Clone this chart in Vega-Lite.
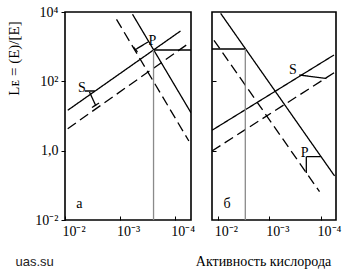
{
  "$schema": "https://vega.github.io/schema/vega-lite/v6.json",
  "padding": {"left": 5, "top": 4, "right": 0, "bottom": 0},
  "background": "white",
  "config": {
    "view": {"stroke": "black", "strokeWidth": 1.6},
    "axis": {"grid": false, "domain": false, "tickColor": "black", "labelColor": "black", "titleColor": "black", "labelFlush": false, "labelOverlap": false}
  },
  "datasets": {
    "segA": [
      {"x": 0.0091, "y": 14.6, "x2": 0.0000778, "y2": 2830, "kind": "solid"},
      {"x": 0.0091, "y": 4.31, "x2": 0.0000561, "y2": 1220, "kind": "dashed"},
      {"x": 0.00059, "y": 8590, "x2": 0.0000501, "y2": 12.45, "kind": "solid"},
      {"x": 0.00116, "y": 6150, "x2": 0.0000547, "y2": 1.9, "kind": "dashed"},
      {"x": 0.000243, "y": 802, "x2": 0.0000501, "y2": 802, "kind": "solid"},
      {"x": 0.000243, "y": 802, "x2": 0.000243, "y2": 0.01, "kind": "guide"},
      {"x": 0.00444, "y": 52.6, "x2": 0.0029, "y2": 52.6, "kind": "note"},
      {"x": 0.00363, "y": 49.3, "x2": 0.00282, "y2": 20.8, "kind": "note"},
      {"x": 0.00327, "y": 17.6, "x2": 0.00243, "y2": 23.6, "kind": "note"},
      {"x": 0.000307, "y": 1365, "x2": 0.00052, "y2": 828, "kind": "note"},
      {"x": 0.000566, "y": 977, "x2": 0.000479, "y2": 702, "kind": "note"}
    ],
    "txtA": [
      {"x": 0.00499, "y": 64.3, "label": "S"},
      {"x": 0.000254, "y": 1459, "label": "P"},
      {"x": 0.00555, "y": 0.029, "label": "а"}
    ],
    "segB": [
      {"x": 0.00885, "y": 9160, "x2": 0.0000546, "y2": 0.186, "kind": "solid"},
      {"x": 0.0119, "y": 1530, "x2": 0.000107, "y2": 0.0656, "kind": "dashed"},
      {"x": 0.013, "y": 3.87, "x2": 0.0000561, "y2": 575, "kind": "solid"},
      {"x": 0.013, "y": 0.979, "x2": 0.000053, "y2": 186, "kind": "dashed"},
      {"x": 0.013, "y": 857, "x2": 0.00294, "y2": 857, "kind": "solid"},
      {"x": 0.00294, "y": 857, "x2": 0.00294, "y2": 0.01, "kind": "guide"},
      {"x": 0.000264, "y": 152.4, "x2": 0.0000791, "y2": 120.8, "kind": "note"},
      {"x": 0.000193, "y": 0.67, "x2": 0.000101, "y2": 0.67, "kind": "note"},
      {"x": 0.000193, "y": 0.67, "x2": 0.000193, "y2": 0.227, "kind": "note"}
    ],
    "txtB": [
      {"x": 0.000353, "y": 212, "label": "S"},
      {"x": 0.000207, "y": 0.857, "label": "P"},
      {"x": 0.00665, "y": 0.029, "label": "б"}
    ]
  },
  "hconcat": [
    {
      "width": 126,
      "height": 208,
      "encoding": {
        "x": {"field": "x", "type": "quantitative",
          "scale": {"type": "log", "domain": [0.00005, 0.0102], "reverse": true},
          "axis": {"values": [0.01, 0.001, 0.0001],
            "labelExpr": "datum.value > 0.005 ? '10⁻²' : datum.value > 0.0005 ? '10⁻³' : '10⁻⁴'",
            "tickSize": -4, "labelPadding": 8, "labelOffset": 8,
            "labelFont": "Liberation Serif", "labelFontSize": 14,
            "title": "uas.su", "titleFont": "Liberation Sans", "titleFontSize": 13, "titleFontWeight": "normal",
            "titleX": -50, "titleY": 45, "titleAlign": "left", "titleBaseline": "alphabetic", "titleColor": "#222222"}},
        "y": {"field": "y", "type": "quantitative",
          "scale": {"type": "log", "domain": [0.01, 10000]},
          "axis": {"values": [0.01, 1, 100, 10000],
            "labelExpr": "datum.value >= 5000 ? '10⁴' : datum.value >= 50 ? '10²' : datum.value >= 0.5 ? '1,0' : '10⁻²'",
            "tickSize": 4, "labelPadding": 3,
            "labelFont": "Liberation Serif", "labelFontSize": 14,
            "title": "Lᴇ = (E)/[E]", "titleFont": "Liberation Serif", "titleFontSize": 15, "titleFontWeight": "normal",
            "titleX": -52, "titleY": 46, "titleAlign": "center", "titleBaseline": "middle", "titleAngle": -90}}
      },
      "layer": [
        {
          "data": {"name": "segA"},
          "mark": {"type": "rule", "clip": true},
          "encoding": {
            "x2": {"field": "x2"},
            "y2": {"field": "y2"},
            "color": {"field": "kind", "type": "nominal", "scale": {"domain": ["solid", "dashed", "guide", "note"], "range": ["black", "black", "#8a8a8a", "black"]}, "legend": null},
            "strokeDash": {"field": "kind", "type": "nominal", "scale": {"domain": ["solid", "dashed", "guide", "note"], "range": [[1, 0], [10, 5], [1, 0], [1, 0]]}, "legend": null},
            "strokeWidth": {"field": "kind", "type": "nominal", "scale": {"domain": ["solid", "dashed", "guide", "note"], "range": [1.3, 1.3, 2, 0.9]}, "legend": null}
          }
        },
        {
          "data": {"name": "txtA"},
          "mark": {"type": "text", "font": "Liberation Serif", "fontSize": 14, "color": "black", "baseline": "middle", "align": "center"},
          "encoding": {"text": {"field": "label"}}
        }
      ]
    },
    {
      "width": 124,
      "height": 208,
      "encoding": {
        "x": {"field": "x", "type": "quantitative",
          "scale": {"type": "log", "domain": [0.0000513, 0.013], "reverse": true},
          "axis": {"values": [0.01, 0.001, 0.0001],
            "labelExpr": "datum.value > 0.005 ? '10⁻²' : datum.value > 0.0005 ? '10⁻³' : '10⁻⁴'",
            "tickSize": -4, "labelPadding": 8, "labelOffset": 8,
            "labelFont": "Liberation Serif", "labelFontSize": 14,
            "title": "Активность кислорода", "titleFont": "Liberation Serif", "titleFontSize": 14, "titleFontWeight": "normal",
            "titleX": 51, "titleY": 45, "titleAlign": "center", "titleBaseline": "alphabetic"}},
        "y": {"field": "y", "type": "quantitative",
          "scale": {"type": "log", "domain": [0.01, 10000]},
          "axis": {"values": [1, 100], "labels": false, "tickSize": -4, "title": null}}
      },
      "layer": [
        {
          "data": {"name": "segB"},
          "mark": {"type": "rule", "clip": true},
          "encoding": {
            "x2": {"field": "x2"},
            "y2": {"field": "y2"},
            "color": {"field": "kind", "type": "nominal", "scale": {"domain": ["solid", "dashed", "guide", "note"], "range": ["black", "black", "#8a8a8a", "black"]}, "legend": null},
            "strokeDash": {"field": "kind", "type": "nominal", "scale": {"domain": ["solid", "dashed", "guide", "note"], "range": [[1, 0], [10, 5], [1, 0], [1, 0]]}, "legend": null},
            "strokeWidth": {"field": "kind", "type": "nominal", "scale": {"domain": ["solid", "dashed", "guide", "note"], "range": [1.3, 1.3, 2, 0.9]}, "legend": null}
          }
        },
        {
          "data": {"name": "txtB"},
          "mark": {"type": "text", "font": "Liberation Serif", "fontSize": 14, "color": "black", "baseline": "middle", "align": "center"},
          "encoding": {"text": {"field": "label"}}
        }
      ]
    }
  ],
  "spacing": 21,
  "bounds": "flush"
}
